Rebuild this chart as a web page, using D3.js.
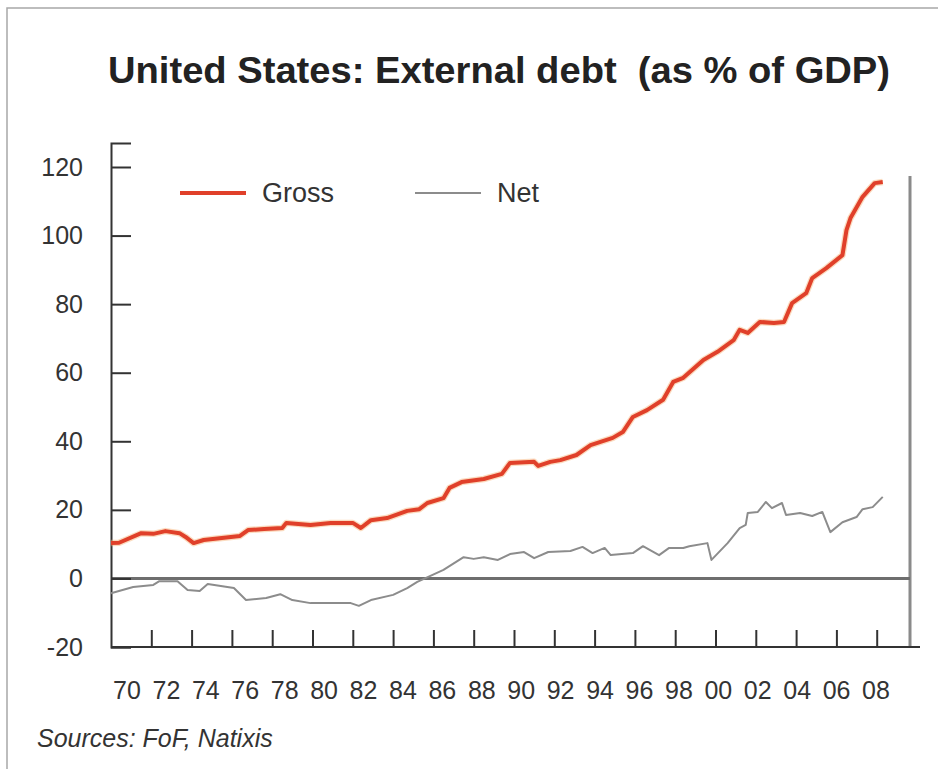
<!DOCTYPE html>
<html><head><meta charset="utf-8">
<script src="https://cdn.jsdelivr.net/npm/d3@7"></script>
<style>
html,body{margin:0;padding:0;background:#fff;}
svg{display:block;font-family:"Liberation Sans",Arial,sans-serif;}
</style></head>
<body>
<svg id="chart" width="938" height="769"></svg>
<script>
// ---- data ----
const title = "United States: External debt  (as % of GDP)";
const source = "Sources: FoF, Natixis";
const yTicks = [-20, 0, 20, 40, 60, 80, 100, 120];
const xTickYears = d3.range(1972, 2009, 2);
const xLabels = ["70","72","74","76","78","80","82","84","86","88","90","92","94","96","98","00","02","04","06","08"];
const seriesNames = ["Gross", "Net"];

const grossYears = [1970.0,1970.4,1971.5,1972.1,1972.7,1973.4,1973.7,1974.1,1974.6,1975.5,1976.4,1976.8,1977.6,1978.5,1978.7,1979.9,1980.9,1982.0,1982.4,1982.9,1983.7,1984.7,1985.3,1985.7,1986.5,1986.8,1987.4,1988.5,1989.4,1989.8,1991.0,1991.2,1991.8,1992.3,1993.1,1993.8,1994.9,1995.4,1995.9,1996.6,1997.4,1997.9,1998.4,1999.4,2000.1,2000.9,2001.2,2001.6,2002.2,2002.9,2003.4,2003.8,2004.5,2004.8,2005.5,2006.3,2006.5,2006.7,2007.3,2007.9,2008.3];
const grossValues = [10.3,10.4,13.2,13.0,13.8,13.2,12.1,10.3,11.2,11.8,12.4,14.1,14.4,14.7,16.2,15.6,16.2,16.2,14.7,17.0,17.6,19.7,20.2,22.0,23.4,26.4,28.1,29.0,30.5,33.7,34.0,32.8,34.0,34.5,36.0,38.9,41.0,42.7,47.1,49.1,52.1,57.3,58.5,63.7,66.1,69.5,72.5,71.6,74.8,74.5,74.8,80.3,83.2,87.6,90.5,94.3,101.6,105.1,111.3,115.3,115.6];

const netYears = [1970.0,1971.1,1972.1,1972.4,1973.3,1973.8,1974.4,1974.8,1976.1,1976.7,1977.7,1978.4,1979.0,1979.9,1981.9,1982.3,1982.9,1984.0,1984.7,1985.2,1985.5,1986.5,1987.5,1988.0,1988.5,1989.2,1989.8,1990.5,1991.0,1991.7,1992.8,1993.4,1993.9,1994.5,1994.8,1995.9,1996.4,1997.2,1997.7,1998.4,1998.7,1999.6,1999.8,2000.6,2001.2,2001.5,2001.6,2002.1,2002.5,2002.8,2003.3,2003.5,2004.2,2004.8,2005.3,2005.7,2006.3,2007.0,2007.3,2007.8,2008.3];
const netValues = [-4.3,-2.5,-1.9,-0.8,-0.8,-3.4,-3.7,-1.6,-2.8,-6.3,-5.7,-4.6,-6.3,-7.2,-7.2,-8.0,-6.3,-4.8,-2.8,-1.0,-0.2,2.5,6.2,5.7,6.2,5.4,7.1,7.7,5.9,7.7,8.0,9.2,7.4,8.9,6.8,7.4,9.4,6.8,8.9,8.9,9.4,10.3,5.4,10.3,14.7,15.6,19.1,19.4,22.3,20.5,22.0,18.5,19.1,18.2,19.4,13.5,16.4,17.9,20.2,20.8,23.8];

// ---- drawing ----
const svg = d3.select("#chart");
const x = d3.scaleLinear().domain([1970, 2010]).range([111, 917]);
const y = d3.scaleLinear().domain([-20, 127]).range([647, 143]);
const xl = d3.scalePoint().domain(xLabels).range([127, 876]);

// frame
svg.append("rect").attr("x", 7).attr("y", 8).attr("width", 1000).attr("height", 1000)
  .attr("fill", "none").attr("stroke", "#a8a8a8").attr("stroke-width", 1.5);

// title
svg.append("text").attr("x", 108).attr("y", 83)
  .attr("font-size", 36).attr("font-weight", "bold").attr("fill", "#222")
  .attr("textLength", 782).attr("lengthAdjust", "spacingAndGlyphs")
  .style("white-space", "pre")
  .text(title);

// right gray line
svg.append("line").attr("x1", 910).attr("x2", 910).attr("y1", 176).attr("y2", y(-20))
  .attr("stroke", "#8a8a8a").attr("stroke-width", 3);

// zero line
svg.append("line").attr("x1", x(1970)).attr("x2", 910).attr("y1", y(0)).attr("y2", y(0))
  .attr("stroke", "#6e6e6e").attr("stroke-width", 3);

// y axis
const yAxis = svg.append("g").attr("transform", `translate(${x(1970)},0)`)
  .call(d3.axisLeft(y).tickValues(yTicks).tickSizeInner(-20).tickSizeOuter(-20).tickPadding(28)
    .tickFormat(d => String(d)));
yAxis.selectAll("path,line").attr("stroke", "#333").attr("stroke-width", 2);
yAxis.selectAll("text").attr("font-size", 25).attr("fill", "#333")
  .attr("font-family", "Liberation Sans, Arial, sans-serif");

// x axis
const xAxis = svg.append("g").attr("transform", `translate(0,${y(-20)})`)
  .call(d3.axisBottom(x).tickValues(xTickYears).tickSizeInner(-17).tickSizeOuter(0).tickFormat(""));
xAxis.select(".domain").attr("d", `M${x(1970)},0H920`);
xAxis.selectAll("path,line").attr("stroke", "#333").attr("stroke-width", 2);

// x labels
svg.append("g").selectAll("text").data(xLabels).join("text")
  .attr("x", d => xl(d)).attr("y", 699).attr("text-anchor", "middle")
  .attr("font-size", 25).attr("fill", "#333").text(d => d);

// lines
const line = d3.line().x(d => x(d[0])).y(d => y(d[1]));
const gross = grossYears.map((t, i) => [t, grossValues[i]]);
const net = netYears.map((t, i) => [t, netValues[i]]);

svg.append("path").datum(net).attr("d", line).attr("fill", "none")
  .attr("stroke", "#8c8c8c").attr("stroke-width", 2).attr("stroke-linejoin", "round");
svg.append("path").datum(gross).attr("d", line).attr("fill", "none")
  .attr("stroke", "#f6b070").attr("stroke-opacity", 0.45).attr("stroke-width", 6.5).attr("stroke-linejoin", "round");
svg.append("path").datum(gross).attr("d", line).attr("fill", "none")
  .attr("stroke", "#e0402a").attr("stroke-width", 4).attr("stroke-linejoin", "round");

// legend
const legend = [
  {name: seriesNames[0], color: "#e0402a", w: 4, x0: 180, tx: 262},
  {name: seriesNames[1], color: "#8c8c8c", w: 2, x0: 415, tx: 497}
];
const lg = svg.append("g");
legend.forEach(l => {
  lg.append("line").attr("x1", l.x0).attr("x2", l.x0 + 66).attr("y1", 193).attr("y2", 193)
    .attr("stroke", l.color).attr("stroke-width", l.w);
  lg.append("text").attr("x", l.tx).attr("y", 202).attr("font-size", 27).attr("fill", "#333").text(l.name);
});

// source
svg.append("text").attr("x", 37).attr("y", 747).attr("font-size", 25).attr("font-style", "italic")
  .attr("fill", "#333").text(source);
</script>
</body></html>
